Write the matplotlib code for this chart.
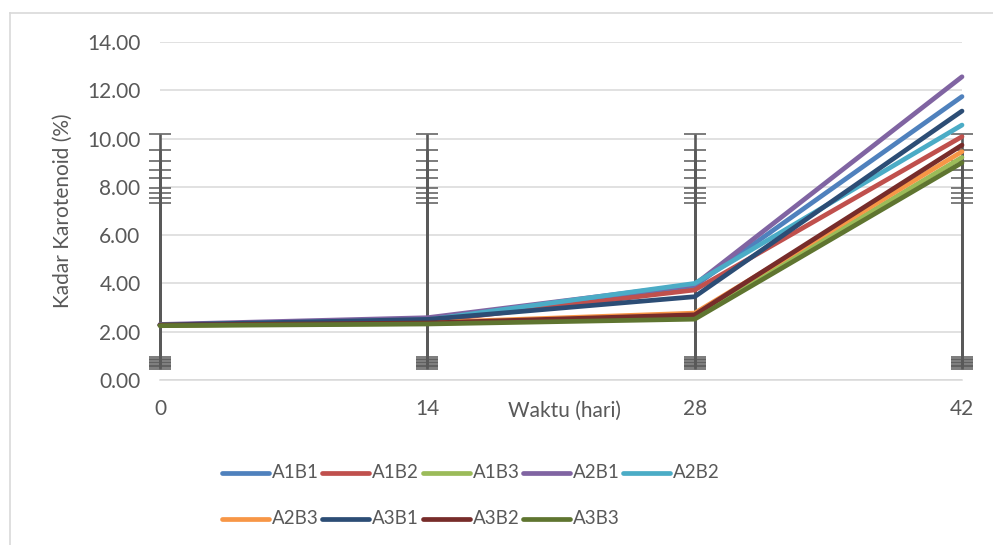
import matplotlib
matplotlib.use("Agg")
import matplotlib.pyplot as plt
from matplotlib.lines import Line2D
import numpy as np

plt.rcParams['font.family'] = ['Lato', 'DejaVu Sans']

days = [0, 14, 28, 42]
names = ["A1B1", "A1B2", "A1B3", "A2B1", "A2B2", "A2B3", "A3B1", "A3B2", "A3B3"]
colors = ["#4F81BD", "#C0504D", "#9BBB59", "#8064A2", "#4BACC6",
          "#F79646", "#2C4D75", "#772C2A", "#5F7530"]

A1B1 = [2.28, 2.47, 3.90, 11.74]
A1B2 = [2.28, 2.42, 3.73, 10.08]
A1B3 = [2.27, 2.34, 2.62, 9.22]
A2B1 = [2.30, 2.58, 3.95, 12.56]
A2B2 = [2.27, 2.49, 4.00, 10.56]
A2B3 = [2.27, 2.38, 2.77, 9.46]
A3B1 = [2.28, 2.51, 3.45, 11.14]
A3B2 = [2.27, 2.36, 2.70, 9.73]
A3B3 = [2.25, 2.32, 2.52, 9.00]
series = [A1B1, A1B2, A1B3, A2B1, A2B2, A2B3, A3B1, A3B2, A3B3]

# error bar ends (same at every sampling day)
err_top = [10.18, 9.53, 9.07, 8.70, 8.35, 7.94, 7.76, 7.55, 7.35]
err_bot = [0.95, 0.88, 0.82, 0.76, 0.70, 0.64, 0.58, 0.52, 0.47]

W, H = 993, 545
fig = plt.figure(figsize=(W / 100, H / 100), dpi=100)
ax = fig.add_axes([160 / W, 1 - 380 / H, (962 - 160) / W, (380 - 42) / H])

grey = "#595959"
n = len(days)
for i in range(len(series)):
    # bar runs from the lower end up to the upper end, caps on both
    base = np.full(n, err_bot[i])
    span = np.full(n, err_top[i] - err_bot[i])
    eb = ax.errorbar(days, base, yerr=[np.zeros(n), span], fmt="none", ecolor=grey,
                     elinewidth=1.9, capsize=8, capthick=1.1, zorder=2)
    for art in eb.lines[1] + eb.lines[2]:
        art.set_clip_on(False)
for i, y in enumerate(series):
    ax.plot(days, y, color=colors[i], lw=3.4, solid_capstyle="round",
            zorder=3, clip_on=False)

ax.set_xlim(0, 42)
ax.set_ylim(0, 14)
ax.set_xticks(days)
ax.set_yticks(np.arange(0, 15, 2))
ax.set_yticklabels([f"{v:.2f}" for v in np.arange(0, 15, 2)])
ax.grid(axis="y", color="#D9D9D9", lw=1.1, zorder=0)
ax.set_axisbelow(True)
for s in ["top", "right", "left"]:
    ax.spines[s].set_visible(False)
ax.spines["bottom"].set_color("#D9D9D9")
ax.spines["bottom"].set_linewidth(1.1)
ax.tick_params(length=0, labelsize=15, labelcolor=grey)
ax.tick_params(axis="x", pad=14)
ax.tick_params(axis="y", pad=14)
ax.set_ylabel("Kadar Karotenoid (%)", fontsize=15, color=grey, labelpad=10)

fig.text(565 / W, 1 - 411 / H, "Waktu (hari)", fontsize=15, color=grey,
         ha="center", va="center")

# legend in two rows
for i, name in enumerate(names):
    row, col = divmod(i, 5)
    x0 = 222 + col * 100.3
    yy = 1 - (473 + row * 46) / H
    fig.add_artist(Line2D([x0 / W, (x0 + 47) / W], [yy, yy], color=colors[i],
                          lw=3.4, solid_capstyle="round"))
    fig.text((x0 + 50) / W, yy, name, fontsize=13.5, color=grey,
             ha="left", va="center")

# chart frame
fig.add_artist(Line2D([9.5 / W, 9.5 / W], [0, 1 - 12.5 / H], color="#D9D9D9", lw=1.2))
fig.add_artist(Line2D([9.5 / W, 1], [1 - 12.5 / H, 1 - 12.5 / H], color="#D9D9D9", lw=1.2))

fig.savefig("out.png", dpi=100)
